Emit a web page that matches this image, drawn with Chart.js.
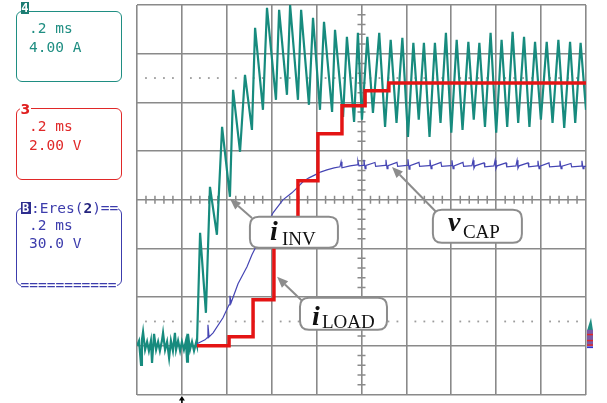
<!DOCTYPE html>
<html><head><meta charset="utf-8">
<script src="https://cdn.jsdelivr.net/npm/chart.js@4"></script>
<style>
html,body{margin:0;padding:0;background:#fff;}
#wrap{position:relative;width:607px;height:403px;overflow:hidden;background:#fff;}
canvas{position:absolute;left:0;top:0;}
.box{position:absolute;left:16px;width:105.5px;border:1.6px solid;border-radius:6px;box-sizing:border-box;}
.txt{position:absolute;font-family:'DejaVu Sans Mono',monospace;font-size:14.5px;line-height:19px;white-space:pre;}
.teal{color:#1f8e82;border-color:#1f8e82;}
.red{color:#e02828;border-color:#e02828;}
.blue{color:#3c3cac;border-color:#3c3cac;}
</style></head>
<body><div id="wrap">
<canvas id="c" width="607" height="403"></canvas>
<div class="box teal" style="top:10.5px;height:71.5px;"></div>
<div style="position:absolute;left:20.5px;top:1.5px;width:8.5px;height:12.5px;background:#1c7d73;color:#fff;font:bold 12px 'DejaVu Sans Mono';line-height:12.5px;text-align:center;">4</div>
<div class="txt teal" style="left:29px;top:18.8px;">.2 ms</div>
<div class="txt teal" style="left:29px;top:38px;">4.00 A</div>

<div class="box red" style="top:108.3px;height:72px;"></div>
<div style="position:absolute;left:19.5px;top:101.5px;background:#fff;color:#e02020;font:bold 14px 'DejaVu Sans';line-height:14px;padding:0 1px;">3</div>
<div class="txt red" style="left:29px;top:117.2px;">.2 ms</div>
<div class="txt red" style="left:29px;top:136.2px;">2.00 V</div>

<div class="box blue" style="top:208px;height:77.5px;"></div>
<div style="position:absolute;left:20.5px;top:201.5px;width:10px;height:12.5px;background:#2e2e8e;color:#fff;font:bold 12px 'DejaVu Sans Mono';line-height:12.5px;text-align:center;">B</div>
<div class="txt blue" style="left:31px;top:198.8px;background:#fff;">:Eres(<b style="color:#24247e">2</b>)==</div>
<div class="txt blue" style="left:29px;top:215.5px;">.2 ms</div>
<div class="txt blue" style="left:29px;top:233.8px;">30.0 V</div>
<div class="txt blue" style="left:20.5px;top:275.5px;background:#fff;">===========</div>
</div>
<script>
// time in microseconds (0.2 ms/div), inverter current in A (4 A/div)
const tealT = [0,9,18,22,27,36,45,53,62,67,76,85,94,102,111,116,125,134,143,151,160,169,174,183,192,200,209,218,223,227,236,245,254,263,267,
  281,307,325,356,379,414,428,459,481,512,526,561,579,619,633,668,682,717,731,766,784,815,833,869,882,918,935,967,984,1002,
  1026,1051,1079,1105,1130,1156,1182,1207,1231,1255,1278,1303,1327,1352,1376,1400,1424,1450,1476,1500,1525,1550,1575,1600,1624,1649,1673,1698,1724,1748,1773,1799,1825,1851,1877,1903,1929,1952,1976,2000];
const tealA = [0,0.41,-1.56,0.49,1.15,-0.33,0.33,-0.41,0.41,-1.40,0.99,-0.33,0.33,-0.41,0.41,1.07,-0.33,0.33,-0.99,0.41,-0.41,1.07,-0.33,0.41,-0.41,0.33,-0.33,0.41,-1.31,0.99,-0.33,0.33,-0.41,0.25,0,
  9.28,2.71,13.06,9.12,17.99,12.24,21.03,15.94,22.26,17.74,26.12,19.39,27.77,20.21,27.60,20.62,28.0,20.21,27.60,19.80,26.95,19.39,26.62,19.22,25.96,18.81,25.38,18.40,25.71,18.57,
  25.38,19.14,25.71,17.99,25.13,18.32,25.30,17.17,24.89,18.57,24.89,17.17,24.89,18.32,25.71,17.50,25.13,17.74,24.97,18.57,24.89,17.99,25.71,17.50,25.13,17.99,25.79,18.32,25.38,17.99,24.97,18.57,24.97,18.32,25.13,17.91,24.97,18.32,24.89,19.39];
// load channel (2 V/div), step points
const redT = [267,410,517,610,717,806,913,1016,1122,2000];
const redV = [0,0.37,1.89,4.68,6.78,8.71,9.86,10.48,10.80,10.80];
// capacitor voltage (30 V/div)
const blueT = [267,303,312,316,321,339,383,410,414,419,450,490,512,557,606,650,690,713,739,766,793,820,846,878,904,909,913,949,980,984,989,
  1007,1011,1016,1020,1060,1063,1105,1109,1114,1118,1158,1161,1203,1207,1212,1216,1256,1259,1301,1305,1310,1314,1354,1357,
  1399,1403,1408,1412,1452,1455,1492,1497,1501,1506,1546,1549,1590,1595,1599,1604,1644,1647,1688,1693,1697,1702,1742,1745,
  1782,1786,1791,1795,1835,1838,1880,1884,1889,1893,1933,1936,1978,1982,1987,1991,2000];
const blueV = [1.23,3.70,4.93,12.94,5.54,8.01,17.25,25.26,30.81,26.49,38.20,48.67,56.07,68.39,81.94,89.95,94.26,97.34,101.04,103.50,105.35,107.20,108.43,109.67,110.28,113.36,109.67,110.90,111.51,113.98,110.90,
  111.2,114.6,109.1,111.2,113.0,110.6,111.2,114.6,109.1,111.0,113.0,110.6,111.2,114.9,108.8,111.0,113.0,110.6,111.0,114.6,109.1,111.0,113.0,110.6,
  111.0,114.3,109.1,110.9,113.0,110.6,111.0,114.3,109.4,110.9,112.7,110.3,110.9,114.3,109.1,110.9,112.7,110.3,110.9,114.3,109.4,110.9,112.7,110.3,
  110.9,114.0,109.1,110.7,112.7,110.3,110.7,114.0,109.1,110.7,112.4,110.3,110.7,114.0,109.1,110.6,110.6];
const timeRange = [0, 2000], timeStep = 200;
const tealRange = [-4, 28], tealStep = 4;
const redRange = [-2, 14];
const blueRange = [-30, 210];
const dotLevels = [22, 2];
const triggerT = 200;
const notes = [
  {main:'i', sub:'INV', t:503, a:10.6, w:88, h:31, mx:20, my:23, sx:32, sy:28, tipT:414, tipA:12.08, tailT:512, tailA:10.5},
  {main:'v', sub:'CAP', t:1318, a:11.17, w:89, h:33, mx:15, my:21, sx:30, sy:28, tipT:1136, tipA:14.7, tailT:1336, tailA:10.93},
  {main:'i', sub:'LOAD', t:726, a:3.94, w:87, h:32, mx:12, my:27, sx:22, sy:30, tipT:624, tipA:5.67, tailT:735, tailA:3.70}
];

const gridColor = '#8a8a8a';
const zip = (xs, ys) => xs.map((x, i) => ({x, y: ys[i]}));

function rrect(ctx, x, y, w, h, r) {
  ctx.beginPath();
  ctx.moveTo(x + r, y); ctx.lineTo(x + w - r, y); ctx.quadraticCurveTo(x + w, y, x + w, y + r);
  ctx.lineTo(x + w, y + h - r); ctx.quadraticCurveTo(x + w, y + h, x + w - r, y + h);
  ctx.lineTo(x + r, y + h); ctx.quadraticCurveTo(x, y + h, x, y + h - r);
  ctx.lineTo(x, y + r); ctx.quadraticCurveTo(x, y, x + r, y); ctx.closePath();
}
function arrow(ctx, x1, y1, x2, y2) {
  const ang = Math.atan2(y2 - y1, x2 - x1), L = 11, W = 4.5;
  const bx = x2 - L * Math.cos(ang), by = y2 - L * Math.sin(ang);
  ctx.beginPath(); ctx.moveTo(x1, y1); ctx.lineTo(bx, by); ctx.stroke();
  ctx.beginPath(); ctx.moveTo(x2, y2);
  ctx.lineTo(bx + W * Math.sin(ang), by - W * Math.cos(ang));
  ctx.lineTo(bx - W * Math.sin(ang), by + W * Math.cos(ang));
  ctx.closePath(); ctx.fill();
}

const decor = {
  id: 'decor',
  beforeDatasetsDraw(chart) {
    const {ctx, scales: {x, y}} = chart;
    ctx.save();
    ctx.fillStyle = '#9c9c9c';
    for (const v of dotLevels) {
      const py = y.getPixelForValue(v);
      for (let k = 0; k <= 50; k++) {
        if (k % 5 === 0) continue;
        const px = x.getPixelForValue(k * timeStep / 5);
        ctx.fillRect(px - 0.9, py - 0.9, 1.8, 1.8);
      }
    }
    ctx.strokeStyle = gridColor; ctx.lineWidth = 1.5;
    const cx = x.getPixelForValue((timeRange[0] + timeRange[1]) / 2);
    const cy = y.getPixelForValue((tealRange[0] + tealRange[1]) / 2);
    ctx.beginPath();
    for (let k = 0; k <= 40; k++) {
      if (k % 5 === 0) continue;
      const py = y.getPixelForValue(tealRange[0] + k * tealStep / 5);
      ctx.moveTo(cx - 4, py); ctx.lineTo(cx + 4, py);
    }
    for (let k = 0; k <= 50; k++) {
      if (k % 5 === 0) continue;
      const px = x.getPixelForValue(k * timeStep / 5);
      ctx.moveTo(px, cy - 4); ctx.lineTo(px, cy + 4);
    }
    ctx.stroke();
    ctx.restore();
  },
  afterDatasetsDraw(chart) {
    const {ctx, chartArea: ar, scales: {x, y}} = chart;
    ctx.save();
    // annotations
    for (const n of notes) {
      ctx.strokeStyle = '#8c8c8c'; ctx.fillStyle = '#8c8c8c'; ctx.lineWidth = 2;
      arrow(ctx, x.getPixelForValue(n.tailT), y.getPixelForValue(n.tailA), x.getPixelForValue(n.tipT), y.getPixelForValue(n.tipA));
      const bx = x.getPixelForValue(n.t), by = y.getPixelForValue(n.a);
      rrect(ctx, bx, by, n.w, n.h, 9);
      ctx.fillStyle = '#fff'; ctx.fill();
      ctx.strokeStyle = '#8c8c8c'; ctx.lineWidth = 2; ctx.stroke();
      ctx.fillStyle = '#111'; ctx.textBaseline = 'alphabetic'; ctx.textAlign = 'left';
      ctx.font = "bold italic 28px 'Liberation Serif'";
      ctx.fillText(n.main, bx + n.mx, by + n.my);
      ctx.font = "19px 'Liberation Serif'";
      ctx.fillText(n.sub, bx + n.sx, by + n.sy);
    }
    // trigger marker
    const tx = x.getPixelForValue(triggerT), tb = ar.bottom + 1.5;
    ctx.fillStyle = '#000';
    ctx.beginPath(); ctx.moveTo(tx, tb); ctx.lineTo(tx - 3, tb + 4.5); ctx.lineTo(tx + 3, tb + 4.5); ctx.closePath(); ctx.fill();
    ctx.fillRect(tx - 0.8, tb + 4, 1.6, 5);
    // ground markers
    const g = y.getPixelForValue(0), rx = ar.right + 1;
    ctx.fillStyle = '#1f8e82';
    ctx.beginPath(); ctx.moveTo(rx, g - 15); ctx.lineTo(rx + 4, g - 28); ctx.lineTo(rx + 6, g - 15); ctx.closePath(); ctx.fill();
    ctx.fillStyle = '#7a5aa6'; ctx.fillRect(rx, g - 16, 6, 16);
    ctx.fillStyle = '#e02828';
    ctx.fillRect(rx, g - 12, 6, 1.5); ctx.fillRect(rx, g - 6, 6, 1.5); ctx.fillRect(rx, g - 1.5, 6, 1.5);
    ctx.fillStyle = '#3333cc'; ctx.fillRect(rx, g + 0.5, 6, 1.8);
    ctx.restore();
  }
};

new Chart(document.getElementById('c'), {
  type: 'line',
  data: {
    datasets: [
      {label: 'i_LOAD', data: zip(redT, redV), yAxisID: 'yR', borderColor: '#e41414', borderWidth: 3.5, stepped: 'before', pointRadius: 0, order: 0},
      {label: 'v_CAP', data: zip(blueT, blueV), yAxisID: 'yB', borderColor: '#4646b4', borderWidth: 1.2, pointRadius: 0, tension: 0, order: 1},
      {label: 'i_INV', data: zip(tealT, tealA), yAxisID: 'y', borderColor: '#178b7e', borderWidth: 2.2, pointRadius: 0, tension: 0, order: 2}
    ]
  },
  options: {
    responsive: false,
    animation: false,
    layout: {padding: {left: 137, right: 21, top: 5, bottom: 8.5}},
    plugins: {legend: {display: false}, tooltip: {enabled: false}},
    scales: {
      x: {type: 'linear', min: timeRange[0], max: timeRange[1], ticks: {display: false, stepSize: timeStep},
          grid: {color: gridColor, lineWidth: 1.6, drawTicks: false}, border: {display: false}},
      y: {min: tealRange[0], max: tealRange[1], ticks: {display: false, stepSize: tealStep},
          grid: {color: gridColor, lineWidth: 1.6, drawTicks: false}, border: {display: false}},
      yR: {display: false, min: redRange[0], max: redRange[1]},
      yB: {display: false, min: blueRange[0], max: blueRange[1]}
    }
  },
  plugins: [decor]
});
</script>
</body></html>
